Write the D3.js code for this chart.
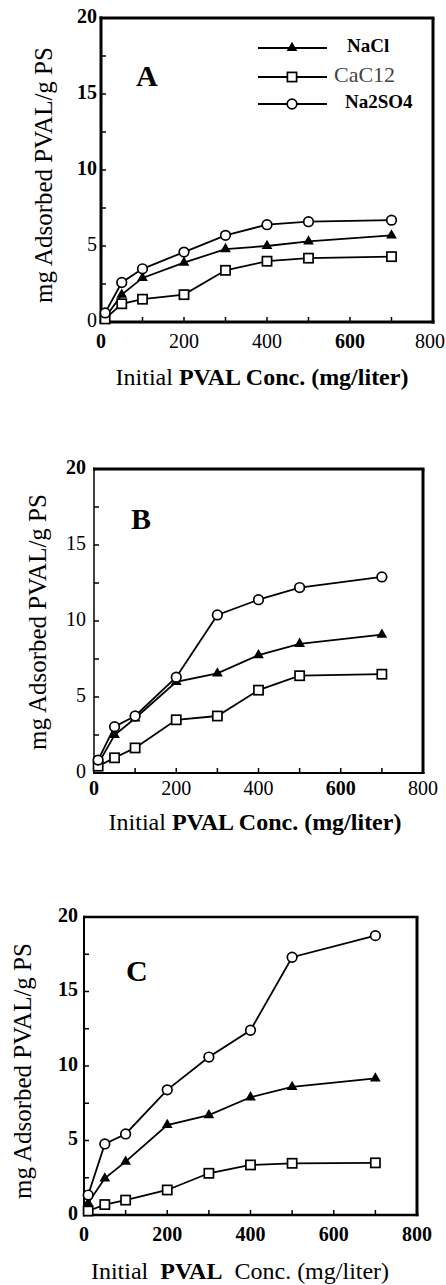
<!DOCTYPE html>
<html><head><meta charset="utf-8">
<script src="https://cdn.jsdelivr.net/npm/d3@7"></script>
<style>
html,body{margin:0;padding:0;background:#fff;}
svg{display:block;font-family:"Liberation Serif","Times New Roman",serif;}
</style></head>
<body><svg id="c" width="446" height="1285"></svg>
<script>
// ---- data ----
const concentrations = [10, 50, 100, 200, 300, 400, 500, 700];
const seriesNames = ["NaCl", "CaC12", "Na2SO4"];
const xTicks = [0, 200, 400, 600, 800];
const yTicks = [0, 5, 10, 15, 20];
const panelLabels = ["A", "B", "C"];

const naclA   = [0.3, 1.8, 2.9, 3.9, 4.8, 5.0, 5.3, 5.7];
const cacl2A  = [0.2, 1.2, 1.5, 1.8, 3.4, 4.0, 4.2, 4.3];
const na2so4A = [0.6, 2.6, 3.5, 4.6, 5.7, 6.4, 6.6, 6.7];

const naclB   = [0.6, 2.5, 3.6, 6.0, 6.55, 7.75, 8.5, 9.1];
const cacl2B  = [0.45, 1.0, 1.65, 3.5, 3.75, 5.45, 6.4, 6.5];
const na2so4B = [0.85, 3.05, 3.75, 6.3, 10.4, 11.4, 12.2, 12.9];

const naclC   = [0.8, 2.46, 3.58, 6.04, 6.7, 7.9, 8.6, 9.17];
const cacl2C  = [0.27, 0.7, 1.0, 1.68, 2.8, 3.36, 3.47, 3.5];
const na2so4C = [1.34, 4.77, 5.44, 8.4, 10.6, 12.4, 17.3, 18.75];

const yTitle = "mg Adsorbed PVAL/g PS";

// ---- layout ----
const panels = [
  {label: panelLabels[0], data: [naclA, cacl2A, na2so4A], left: 101, right: 433, top: 18, bottom: 322,
   xLabY: 343, xLabBold: [true,false,false,true,false], yLabBold: [false,false,true,true,true], yLabRight: 97,
   titleY: 385, titleX: 262, yTitleX: 46, yTitleY: 175, labX: 136, labY: 86, legend: true,
   titleParts: [["Initial ", "normal"], ["PVAL Conc. (mg/liter)", "bold"]], frame: [3,3,3,3]},
  {label: panelLabels[1], data: [naclB, cacl2B, na2so4B], left: 94, right: 423, top: 469, bottom: 773,
   xLabY: 790, xLabBold: [true,false,false,true,false], yLabBold: [false,false,false,false,true], yLabRight: 86,
   titleY: 830, titleX: 255, yTitleX: 40, yTitleY: 622, labX: 131, labY: 529, legend: false,
   titleParts: [["Initial ", "normal"], ["PVAL Conc. (mg/liter)", "bold"]], frame: [3,3,2,1.5]},
  {label: panelLabels[2], data: [naclC, cacl2C, na2so4C], left: 84, right: 417, top: 917, bottom: 1215,
   xLabY: 1236, xLabBold: [true,true,true,true,true], yLabBold: [true,true,true,true,true], yLabRight: 78,
   titleY: 1279, titleX: 240, yTitleX: 25, yTitleY: 1071, labX: 126, labY: 981, legend: false,
   titleParts: [["Initial  ", "normal"], ["PVAL", "bold"], ["  Conc. (mg/liter)", "normal"]], frame: [2.5,3,2.5,2]}
];

const svg = d3.select("#c");
const tri = d3.symbol().type(d3.symbolTriangle).size(50);

function drawMarker(g, kind, x, y) {
  if (kind === 0) {
    g.append("path").attr("d", tri).attr("transform", `translate(${x},${y})`).attr("fill", "#000");
  } else if (kind === 1) {
    g.append("rect").attr("x", x - 4.6).attr("y", y - 4.6).attr("width", 9.2).attr("height", 9.2)
      .attr("fill", "#fff").attr("stroke", "#000").attr("stroke-width", 1.7);
  } else {
    g.append("circle").attr("cx", x).attr("cy", y).attr("r", 4.8)
      .attr("fill", "#fff").attr("stroke", "#000").attr("stroke-width", 1.7);
  }
}

panels.forEach(p => {
  const g = svg.append("g");
  const x = d3.scaleLinear().domain([0, 800]).range([p.left, p.right]);
  const y = d3.scaleLinear().domain([0, 20]).range([p.bottom, p.top]);

  // inward minor ticks
  const xt = d3.range(100, 800, 100);
  g.selectAll(null).data(xt).join("line")
    .attr("x1", d => x(d)).attr("x2", d => x(d)).attr("y1", p.bottom).attr("y2", p.bottom - 5)
    .attr("stroke", "#000").attr("stroke-width", 1.5);
  const yt = d3.range(2.5, 20, 2.5);
  g.selectAll(null).data(yt).join("line")
    .attr("x1", p.left).attr("x2", p.left + 5).attr("y1", d => y(d)).attr("y2", d => y(d))
    .attr("stroke", "#000").attr("stroke-width", 1.5);

  // frame
  const [ft, fr, fb, fl] = p.frame;
  g.append("line").attr("x1", p.left - fl/2).attr("x2", p.right + fr/2).attr("y1", p.top).attr("y2", p.top).attr("stroke", "#000").attr("stroke-width", ft);
  g.append("line").attr("x1", p.right).attr("x2", p.right).attr("y1", p.top).attr("y2", p.bottom + fb/2).attr("stroke", "#000").attr("stroke-width", fr);
  g.append("line").attr("x1", p.left - fl/2).attr("x2", p.right + fr/2).attr("y1", p.bottom).attr("y2", p.bottom).attr("stroke", "#000").attr("stroke-width", fb);
  g.append("line").attr("x1", p.left).attr("x2", p.left).attr("y1", p.top - ft/2).attr("y2", p.bottom + fb/2).attr("stroke", "#000").attr("stroke-width", fl);

  // tick labels
  g.selectAll(null).data(xTicks).join("text")
    .attr("x", d => Math.min(x(d), 430)).attr("y", p.xLabY).attr("text-anchor", "middle")
    .attr("font-size", 20).attr("font-weight", (d, i) => p.xLabBold[i] ? "bold" : "normal")
    .attr("dominant-baseline", "middle").text(d => d);
  g.selectAll(null).data(yTicks).join("text")
    .attr("x", p.yLabRight).attr("y", d => y(d)).attr("text-anchor", "end")
    .attr("font-size", 20).attr("font-weight", (d, i) => p.yLabBold[i] ? "bold" : "normal")
    .attr("dominant-baseline", "middle").text(d => d);

  // axis titles
  const t = g.append("text").attr("x", p.titleX).attr("y", p.titleY).attr("text-anchor", "middle")
    .attr("font-size", 24).attr("xml:space", "preserve").style("white-space", "pre");
  p.titleParts.forEach(([s, w]) => t.append("tspan").attr("font-weight", w).text(s));
  g.append("text").attr("transform", `translate(${p.yTitleX},${p.yTitleY}) rotate(-90)`)
    .attr("text-anchor", "middle").attr("dominant-baseline", "middle")
    .attr("font-size", 25).text(yTitle);

  // panel label
  g.append("text").attr("x", p.labX).attr("y", p.labY).attr("font-size", 30)
    .attr("font-weight", "bold").text(p.label);

  // series
  const line = d3.line().x((d, i) => x(concentrations[i])).y(d => y(d));
  p.data.forEach((vals, k) => {
    g.append("path").attr("d", line(vals)).attr("fill", "none")
      .attr("stroke", "#000").attr("stroke-width", 1.8);
  });
  p.data.forEach((vals, k) => {
    vals.forEach((v, i) => drawMarker(g, k, x(concentrations[i]), y(v)));
  });

  // legend
  if (p.legend) {
    const rows = [48, 77, 104];
    seriesNames.forEach((name, k) => {
      g.append("line").attr("x1", 258).attr("x2", 327).attr("y1", rows[k]).attr("y2", rows[k])
        .attr("stroke", "#000").attr("stroke-width", 1.8);
      drawMarker(g, k, 292, rows[k]);
      const tx = g.append("text").attr("y", rows[k]).attr("dominant-baseline", "middle").text(name);
      if (k === 1) tx.attr("x", 334).attr("font-size", 22).attr("fill", "#444");
      else tx.attr("x", k === 0 ? 347 : 345).attr("font-size", 19).attr("font-weight", "bold");
    });
  }
});
</script></body></html>
